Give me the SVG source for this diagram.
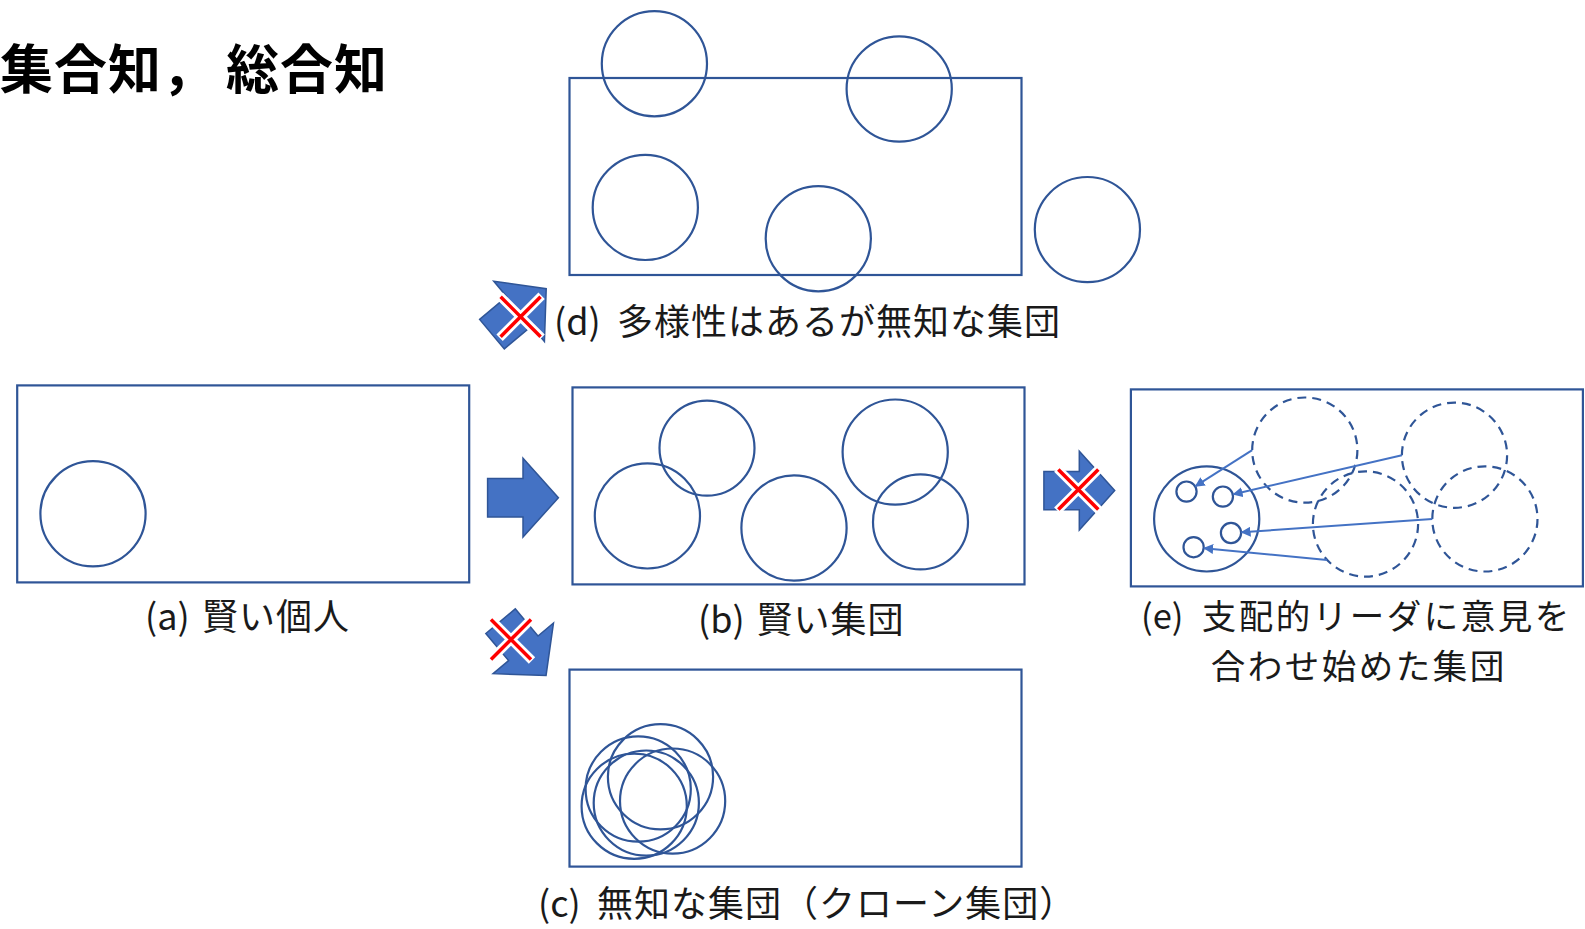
<svg xmlns="http://www.w3.org/2000/svg" width="1585" height="929" viewBox="0 0 1585 929">
<style>
.frame{fill:none;stroke:#2F5597;stroke-width:2.2}
.c{fill:none;stroke:#2F5597;stroke-width:2.2}
.d{fill:none;stroke:#2F5597;stroke-width:2.2;stroke-dasharray:9 6}
.lbl{font-family:"Noto Sans CJK JP","Noto Sans",sans-serif;font-size:36px;fill:#1a1a1a}
.cjk{letter-spacing:1px}
.lble{font-family:"Noto Sans CJK JP","Noto Sans",sans-serif;font-size:34.5px;fill:#1a1a1a}
.cjke{letter-spacing:2.5px}
.title{font-family:"Noto Sans CJK JP","Noto Sans",sans-serif;font-size:53px;font-weight:bold;fill:#000;letter-spacing:1px}
.ln{stroke:#4472C4;stroke-width:2;fill:none}
.big{fill:#4472C4;stroke:#2F5597;stroke-width:1.5}
.xw{stroke:#fff;stroke-width:9;stroke-linecap:butt}
.xr{stroke:#FF0000;stroke-width:3.5}
</style>
<defs>
<path id="barrow" d="M-35.4,-19.2 H0 V-39.4 L35.4,0 L0,39.4 V19.2 H-35.4 Z"/>
<g id="xmark">
<path class="xw" d="M-21,-21 L21,21 M-21,21 L21,-21"/>
<path class="xr" d="M-20,-20 L20,20 M-20,20 L20,-20"/>
</g>
<marker id="ah" viewBox="0 0 10 10" refX="9" refY="5" markerWidth="5" markerHeight="5" orient="auto" markerUnits="strokeWidth">
<path d="M0,0 L10,5 L0,10 Z" fill="#4472C4"/>
</marker>
</defs>
<rect width="1585" height="929" fill="#fff"/>
<text class="title" y="89"><tspan x="0">集合知，</tspan><tspan x="226">総合知</tspan></text>

<g id="node-d">
<rect class="frame" x="569.5" y="78" width="452" height="197"/>
<circle class="c" cx="654.4" cy="63.7" r="52.6"/>
<circle class="c" cx="899.2" cy="89" r="52.6"/>
<circle class="c" cx="645.3" cy="207.4" r="52.6"/>
<circle class="c" cx="818.3" cy="238.7" r="52.6"/>
<circle class="c" cx="1087.4" cy="229.6" r="52.6"/>
<text class="lbl" y="335"><tspan x="554">(d)</tspan><tspan class="cjk" x="617">多様性はあるが無知な集団</tspan></text>
</g>

<g id="node-a">
<rect class="frame" x="17.2" y="385.4" width="452" height="197"/>
<circle class="c" cx="93" cy="513.8" r="52.6"/>
<text class="lbl" y="630"><tspan x="145">(a)</tspan><tspan class="cjk" x="202">賢い個人</tspan></text>
</g>

<g id="node-b">
<rect class="frame" x="572.5" y="387.4" width="452" height="197"/>
<circle class="c" cx="707" cy="448.1" r="47.5"/>
<circle class="c" cx="647.4" cy="515.9" r="52.6"/>
<circle class="c" cx="794" cy="528" r="52.6"/>
<circle class="c" cx="895.2" cy="452.1" r="52.6"/>
<circle class="c" cx="920.5" cy="521.9" r="47.5"/>
<text class="lbl" y="632.5"><tspan x="698">(b)</tspan><tspan class="cjk" x="756.5">賢い集団</tspan></text>
</g>

<g id="node-c">
<rect class="frame" x="569.5" y="669.6" width="452" height="197"/>
<circle class="c" cx="660.5" cy="776.8" r="52.6"/>
<circle class="c" cx="638.2" cy="789" r="52.6"/>
<circle class="c" cx="634.2" cy="806.2" r="52.6"/>
<circle class="c" cx="646.3" cy="803.1" r="52.6"/>
<circle class="c" cx="672.6" cy="801.1" r="52.6"/>
<text class="lbl" y="917"><tspan x="538">(c)</tspan><tspan class="cjk" x="597">無知な集団（クローン集団）</tspan></text>
</g>

<g id="node-e">
<rect class="frame" x="1130.9" y="389.4" width="452" height="197"/>
<circle class="c" cx="1206.7" cy="518.9" r="52.6"/>
<circle class="c" cx="1186.5" cy="491.6" r="10.1"/>
<circle class="c" cx="1222.9" cy="496.6" r="10.1"/>
<circle class="c" cx="1231" cy="533" r="10.1"/>
<circle class="c" cx="1193.6" cy="547.2" r="10.1"/>
<circle class="d" cx="1304.8" cy="450.1" r="52.6"/>
<circle class="d" cx="1454.5" cy="455.2" r="52.6"/>
<circle class="d" cx="1365.5" cy="524" r="52.6"/>
<circle class="d" cx="1484.9" cy="518.9" r="52.6"/>
<text class="lble"><tspan x="1141" y="628.5">(e)</tspan><tspan class="cjke" x="1201.7" y="628.5">支配的リーダに意見を</tspan><tspan class="cjke" x="1210.8" y="679">合わせ始めた集団</tspan></text>
</g>

<g id="connectors">
<line class="ln" x1="1252.2" y1="450.1" x2="1195.5" y2="486.2" marker-end="url(#ah)"/>
<line class="ln" x1="1401.9" y1="455.2" x2="1233.5" y2="494.2" marker-end="url(#ah)"/>
<line class="ln" x1="1432.3" y1="518.9" x2="1241.6" y2="532.3" marker-end="url(#ah)"/>
<line class="ln" x1="1327" y1="559.9" x2="1204.2" y2="548.2" marker-end="url(#ah)"/>
<use href="#barrow" class="big" transform="translate(523,497.7)"/>
<g transform="translate(519.1,311.4)">
<use href="#barrow" class="big" transform="rotate(-40)"/>
<use href="#xmark" transform="translate(1.5,5.3)"/>
</g>
<g transform="translate(1079.3,490.6)">
<use href="#barrow" class="big"/>
<use href="#xmark" transform="translate(-1,-1)"/>
</g>
<g transform="translate(523.3,648.3)">
<use href="#barrow" class="big" transform="rotate(50)"/>
<use href="#xmark" transform="translate(-12.3,-8.8)"/>
</g>
</g>
</svg>
